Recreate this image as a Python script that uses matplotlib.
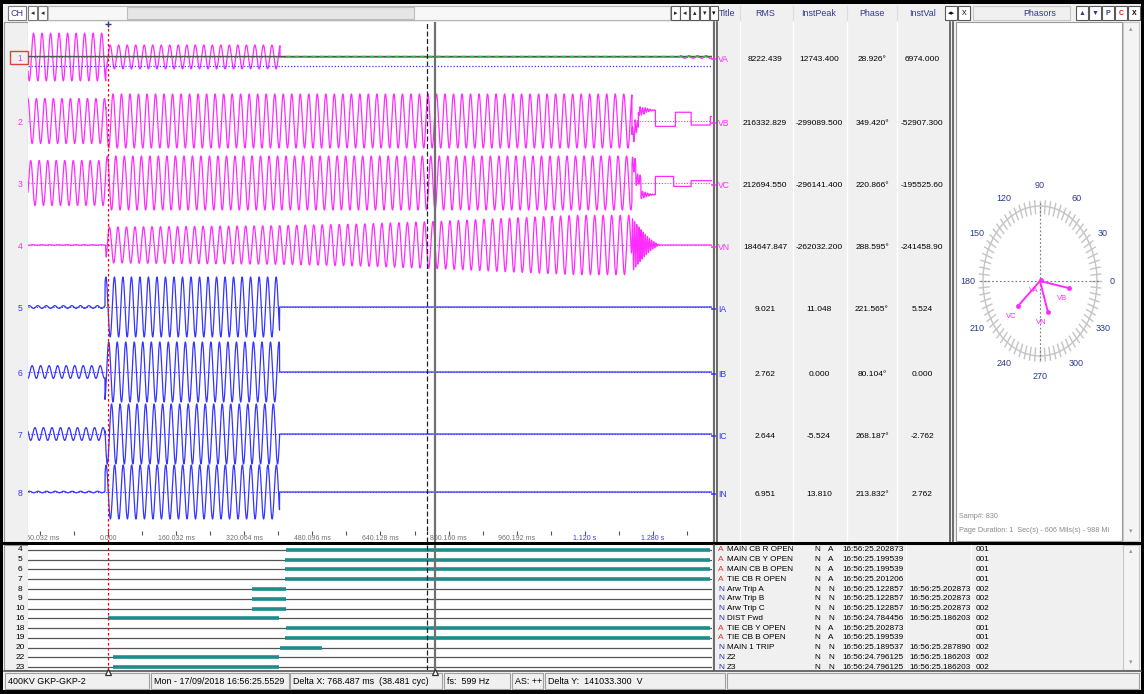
import numpy as np
import matplotlib
matplotlib.use("Agg")
import matplotlib.pyplot as plt
from matplotlib.patches import Rectangle
from matplotlib.transforms import blended_transform_factory

plt.rcParams['font.family'] = ['Liberation Sans', 'DejaVu Sans']
plt.rcParams['font.size'] = 6

W, H = 1144, 694

# record header
STATION = "400KV GKP-GKP-2"
CURSOR_STAMP = "Mon - 17/09/2018 16:56:25.5529"
TRIGGER = "16:56:24.784456"
FS = 599
F_SYS = 50.0
PAGE_START = -0.188
PAGE_LEN = 1.606988
PAGE_END = PAGE_START + PAGE_LEN
CURSOR_A = 0.0
CURSOR_B = 0.768487
MARK_T = 0.750
DELTA_Y = "141033.300"
SAMPLE_NO = 830

# analog channel readings at cursor B
chan_names = ["VA", "VB", "VC", "VN", "IA", "IB", "IC", "IN"]
rms_vals = ["8222.439", "216332.829", "212694.550", "184647.847", "9.021", "2.762", "2.644", "6.951"]
peak_vals = ["12743.400", "-299089.500", "-296141.400", "-262032.200", "11.048", "0.000", "-5.524", "13.810"]
phase_deg = [28.926, 349.420, 220.866, 288.595, 221.565, 80.104, 268.187, 213.832]
inst_vals = ["6974.000", "-52907.300", "-195525.60", "-241458.90", "5.524", "0.000", "-2.762", "2.762"]

# 50 Hz envelopes: segment start times (s) and peak values (kV / A)
va_seg_t = [-0.188, -0.005, 0.404, 1.345]
va_seg_pk = [265.0, 133.0, 0.0, 15.0]
vb_seg_t = [-0.188, -0.005, 1.231]
vb_seg_pk = [250.0, 300.0, 0.0]
vc_seg_t = [-0.188, -0.005, 1.231]
vc_seg_pk = [250.0, 300.0, 0.0]
vn_env_t = [-0.188, -0.006, -0.004, 0.40, 0.60, 0.77, 0.95, 1.10, 1.229, 1.231]
vn_env_pk = [3.0, 3.0, 200.0, 215.0, 235.0, 262.0, 300.0, 330.0, 330.0, 0.0]
ia_seg_t = [-0.188, -0.007, 0.403]
ia_seg_pk = [70.0, 1500.0, 0.0]
ib_seg_t = [-0.188, -0.007, 0.403]
ib_seg_pk = [320.0, 1500.0, 0.0]
ic_seg_t = [-0.188, -0.007, 0.403]
ic_seg_pk = [320.0, 1500.0, 0.0]
in_seg_t = [-0.188, -0.007, 0.403]
in_seg_pk = [40.0, 1350.0, 0.0]
wave_phase = [0.0, -120.0, 120.0, 30.0, 180.0, 60.0, -60.0, 170.0]

# line-side transients after the remote end opens (kV)
vb_dc_t = [1.231, 1.238, 1.246, 1.262, 1.286, 1.333, 1.370, 1.415]
vb_dc_kv = [-150.0, -60.0, 110.0, 120.0, -60.0, 97.0, -45.0, 50.0]
vc_dc_t = [1.231, 1.240, 1.252, 1.286, 1.329, 1.370]
vc_dc_kv = [200.0, 40.0, -130.0, 73.0, -38.0, 26.0]
ring_t0 = 1.231
ring_len = [0.057, 0.057, 0.068]
ring_hz = [170.0, 170.0, 200.0]
ring_pk = [90.0, 90.0, 300.0]

# digital channels / event list
evt_chan = ["4", "5", "6", "7", "8", "9", "10", "16", "18", "19", "20", "22", "23"]
evt_flag = ["A", "A", "A", "A", "N", "N", "N", "N", "A", "A", "N", "N", "N"]
evt_name = ["MAIN CB R OPEN", "MAIN CB Y OPEN", "MAIN CB B OPEN", "TIE CB R OPEN",
            "Arw Trip A", "Arw Trip B", "Arw Trip C", "DIST Fwd",
            "TIE CB Y OPEN", "TIE CB B OPEN", "MAIN 1 TRIP", "Z2", "Z3"]
evt_on = ["16:56:25.202873", "16:56:25.199539", "16:56:25.199539", "16:56:25.201206",
          "16:56:25.122857", "16:56:25.122857", "16:56:25.122857", "16:56:24.784456",
          "16:56:25.202873", "16:56:25.199539", "16:56:25.189537", "16:56:24.796125",
          "16:56:24.796125"]
evt_off = ["", "", "", "",
           "16:56:25.202873", "16:56:25.202873", "16:56:25.202873", "16:56:25.186203",
           "", "", "16:56:25.287890", "16:56:25.186203", "16:56:25.186203"]
evt_code = ["001", "001", "001", "001", "002", "002", "002", "002",
            "001", "001", "002", "002", "002"]

MAG = "#ff2cff"
BLU = "#3535ff"
TEAL = "#1f8c8c"
NAVY = "#2e3a8c"
PANEL = "#f0f0f0"


def px_box(x, y, w, h):
    return [x / W, 1 - (y + h) / H, w / W, h / H]


def clock_s(s):
    h, m, sec = s.split(":")
    return int(h) * 3600 + int(m) * 60 + float(sec)


def steps(t, seg_t, seg_v):
    idx = np.searchsorted(seg_t, t, side="right") - 1
    out = np.asarray(seg_v, dtype=float)[np.clip(idx, 0, len(seg_v) - 1)]
    out[t < seg_t[0]] = 0.0
    return out


fig = plt.figure(figsize=(W / 100, H / 100), dpi=100)
bg = fig.add_axes([0, 0, 1, 1])
bg.set_xlim(0, W)
bg.set_ylim(H, 0)
bg.axis("off")


def rect(x, y, w, h, fc, ec="none", lw=1.0, z=1):
    bg.add_patch(Rectangle((x, y), w, h, facecolor=fc, edgecolor=ec, lw=lw, zorder=z))


# window frame
rect(0, 0, W, H, "black")
rect(3, 4, 1138, 686, PANEL)

# toolbar
rect(8, 6, 18, 14, "white", "#7a7a7a", 0.8)
bg.text(17, 13.5, "CH", color=NAVY, ha="center", va="center", fontsize=6.5)
for bx, g in [(28, "\u25c2"), (38, "\u25c2")]:
    rect(bx, 6, 9, 14, "white", "#7a7a7a", 0.8)
    bg.text(bx + 4.5, 13.5, g, ha="center", va="center", fontsize=5, color="#222222")
rect(48, 6, 622, 14, "#f7f7f7", "#b5b5b5", 0.8)
rect(127, 7, 287, 12, "#e6e6e6", "#bdbdbd", 0.8)
for bx, g in [(671, "\u25b8"), (680, "\u25c2"), (690, "\u25b4"), (700, "\u25be")]:
    rect(bx, 6, 9, 14, "white", "#5a5a5a", 0.8)
    bg.text(bx + 4.5, 13.5, g, ha="center", va="center", fontsize=5, color="#222222")
rect(710, 6, 8, 14, "white", "#5a5a5a", 0.8)
bg.text(714, 13.5, "\u25be", ha="center", va="center", fontsize=5)
for hx, lab in [(727, "Title"), (765, "RMS"), (819, "InstPeak"), (872, "Phase"), (922, "InstVal")]:
    bg.text(hx, 13, lab, color=NAVY, ha="center", va="center", fontsize=6.4)
for sx in [740, 793, 847, 897]:
    bg.plot([sx, sx], [6, 20], color="#dcdcdc", lw=0.8)
for bx, g in [(945, "\u25c2\u25b8"), (958, "X")]:
    rect(bx, 6, 12, 14, "white", "#5a5a5a", 0.8)
    bg.text(bx + 6, 13.5, g, ha="center", va="center", fontsize=5, color="black")
rect(973, 6, 97, 14, PANEL, "#c8c8c8", 0.8)
bg.text(1040, 13, "Phasors", color=NAVY, ha="center", va="center", fontsize=6.4)
for bx, g, c in [(1076, "\u25b2", NAVY), (1089, "\u25bc", NAVY), (1102, "P", NAVY),
                 (1115, "C", "#d02020"), (1128, "X", "black")]:
    rect(bx, 6, 12, 14, "white", "#5a5a5a", 0.8)
    bg.text(bx + 6, 13.5, g, ha="center", va="center", fontsize=5, color=c, weight="bold")

# main panels
rect(4, 22, 24, 520, PANEL, "#9a9a9a", 0.8)
rect(28, 22, 684, 509, "white")
rect(28, 531, 684, 11, "white")
bg.plot([4, 712], [542.5, 542.5], color="black", lw=2.2, zorder=3)
rect(4, 545, 24, 125, PANEL, "#9a9a9a", 0.8)
rect(28, 545, 684, 125, "white")
rect(712, 22, 241, 520, PANEL)
bg.plot([713.5, 713.5], [22, 542], color="#555555", lw=1.2, zorder=3)
bg.plot([716.5, 716.5], [22, 542], color="#555555", lw=1.2, zorder=3)
for sx in [740, 793, 847, 897]:
    bg.plot([sx, sx], [22, 541], color="white", lw=1.0)
bg.plot([950, 950], [22, 542], color="#555555", lw=1.2, zorder=3)
bg.plot([953, 953], [22, 542], color="#555555", lw=1.2, zorder=3)
rect(956, 22, 166, 519, "white", "#9a9a9a", 0.8)
rect(1123, 22, 16, 519, "#f4f4f4", "#c8c8c8", 0.8)
bg.text(1131, 30, "\u25b4", ha="center", va="center", fontsize=5, color="#999999")
bg.text(1131, 532, "\u25be", ha="center", va="center", fontsize=5, color="#999999")
bg.plot([712, 1141], [542.5, 542.5], color="black", lw=2.2, zorder=3)
rect(712, 545, 410, 125, PANEL)
bg.plot([714, 714], [545, 670], color="#555555", lw=1.2, zorder=3)
rect(1123, 545, 16, 125, "#f4f4f4", "#c8c8c8", 0.8)
bg.text(1131, 552, "\u25b4", ha="center", va="center", fontsize=5, color="#999999")
bg.text(1131, 663, "\u25be", ha="center", va="center", fontsize=5, color="#999999")
bg.plot([4, 1141], [670.5, 670.5], color="#555555", lw=1.2, zorder=3)

# status bar
status = [(5, 144, STATION), (151, 138, CURSOR_STAMP),
          (290, 152, "Delta X: 768.487 ms  (38.481 cyc)"),
          (444, 66, "fs:  %d Hz" % FS), (512, 31, "AS: ++"),
          (545, 180, "Delta Y:  %s  V" % DELTA_Y), (727, 412, "")]
for sx, sw, txt in status:
    rect(sx, 673, sw, 16, PANEL, "#a0a0a0", 0.8)
    bg.text(sx + 3, 681, txt, ha="left", va="center", fontsize=6.4, color="black")

# ---- analog waveforms ----
lane_y = [57, 121, 183, 245, 307, 372, 434, 492]
px_per_unit = [0.09, 0.09, 0.09, 0.09, 0.02, 0.02, 0.02, 0.02]
colors = [MAG] * 4 + [BLU] * 4

wave = fig.add_axes(px_box(28, 22, 684, 509))
wave.set_xlim(PAGE_START, PAGE_END)
wave.set_ylim(531, 22)
wave.axis("off")

t = np.arange(PAGE_START, PAGE_END, 1.0 / 6000)
w50 = 2 * np.pi * F_SYS * t
ph = np.radians(wave_phase)
values = [
    steps(t, va_seg_t, va_seg_pk) * np.sin(w50 + ph[0]),
    steps(t, vb_seg_t, vb_seg_pk) * np.sin(w50 + ph[1]),
    steps(t, vc_seg_t, vc_seg_pk) * np.sin(w50 + ph[2]),
    np.interp(t, vn_env_t, vn_env_pk) * np.sin(w50 + ph[3]),
    steps(t, ia_seg_t, ia_seg_pk) * np.sin(w50 + ph[4]),
    steps(t, ib_seg_t, ib_seg_pk) * np.sin(w50 + ph[5]),
    steps(t, ic_seg_t, ic_seg_pk) * np.sin(w50 + ph[6]),
    steps(t, in_seg_t, in_seg_pk) * np.sin(w50 + ph[7]),
]
# decaying ringing once the line goes dead
for k, ch in enumerate([1, 2, 3]):
    fade = np.clip(1 - (t - ring_t0) / ring_len[k], 0, 1) * (t >= ring_t0)
    values[ch] = values[ch] + ring_pk[k] * fade ** 1.5 * np.sin(2 * np.pi * ring_hz[k] * (t - ring_t0))
values[1] = values[1] + steps(t, vb_dc_t, vb_dc_kv)
values[2] = values[2] + steps(t, vc_dc_t, vc_dc_kv)

for i in range(8):
    wave.axhline(lane_y[i], color=colors[i], lw=0.8, ls=(0, (1, 1.5)), zorder=1)
    wave.plot(t, lane_y[i] - values[i] * px_per_unit[i], color=colors[i], lw=0.9, zorder=2)

# selected channel reference lines
wave.axhline(lane_y[0] - 1, color="#555555", lw=1.0, zorder=3)
wave.axhline(lane_y[0] + 9, color=BLU, lw=0.9, ls=(0, (1, 1.5)), zorder=3)
wave.plot([clock_s(evt_on[0]) - clock_s(TRIGGER), PAGE_END], [lane_y[0] - 0.5] * 2,
          color="#3cb43c", lw=1.0, ls=(0, (3, 3)), zorder=4)

wave.axvline(CURSOR_A, color="red", lw=0.9, ls=(0, (2, 2)), zorder=5)
wave.axvline(MARK_T, color="#222222", lw=0.9, ls=(0, (4, 2)), zorder=5)
wave.axvline(CURSOR_B, color="#707070", lw=1.6, zorder=5)
wave.plot([CURSOR_A], [24], marker="+", color=NAVY, ms=5, mew=1, zorder=6, clip_on=False)

for i in range(8):
    bg.text(20, lane_y[i] + 1, str(i + 1), color=colors[i], ha="center", va="center", fontsize=6.2, zorder=4)
bg.add_patch(Rectangle((10, 51), 18, 13, fill=False, edgecolor="#e04040", lw=1.0, zorder=4))

# ---- time axis ----
tax = fig.add_axes(px_box(28, 531, 684, 11))
tax.set_xlim(PAGE_START, PAGE_END)
tax.set_ylim(11, 0)
tax.axis("off")
step = 0.160032
minor = np.arange(-2, 19) * step / 2
tax.vlines(minor, 0, 3.5, color="#555555", lw=0.8)
for k in range(-1, 9):
    tk = k * step
    if k == 0:
        lab = "0.000"
    elif abs(tk) < 1.0:
        lab = "%.3f ms" % (tk * 1000)
    else:
        lab = "%.3f s" % tk
    col = BLU if abs(tk) >= 1.0 else "#707070"
    tax.text(tk, 7.5, lab, ha="center", va="center", fontsize=5, color=col, clip_on=True)
tax.axvline(CURSOR_A, color="red", lw=0.9, ls=(0, (2, 2)))
tax.axvline(MARK_T, color="#222222", lw=0.9, ls=(0, (4, 2)))
tax.axvline(CURSOR_B, color="#707070", lw=1.6)

# ---- digital channels ----
t0 = clock_s(TRIGGER)
nrow = len(evt_chan)
dig = fig.add_axes(px_box(28, 545, 684, 125))
dig.set_xlim(PAGE_START, PAGE_END)
dig.set_ylim(12.3, -0.51)
dig.axis("off")
for r in range(nrow):
    dig.axhline(r, color="#555555", lw=0.9, zorder=1)
    on = clock_s(evt_on[r]) - t0
    off = clock_s(evt_off[r]) - t0 if evt_off[r] else PAGE_END - 0.004
    dig.plot([on, off], [r, r], color=TEAL, lw=2.6, solid_capstyle="butt", zorder=2)
dig.axvline(CURSOR_A, color="red", lw=0.9, ls=(0, (2, 2)), zorder=5)
dig.axvline(MARK_T, color="#222222", lw=0.9, ls=(0, (4, 2)), zorder=5)
dig.axvline(CURSOR_B, color="#707070", lw=1.6, zorder=5)
dig.plot([CURSOR_A, CURSOR_B], [12.55, 12.55], ls="none", marker="^", ms=5,
         mfc="white", mec="#333333", mew=0.9, clip_on=False, zorder=6)
lab_tr = blended_transform_factory(bg.transData, dig.transData)
for r in range(nrow):
    dig.text(20, r, evt_chan[r], transform=lab_tr, ha="center", va="center", fontsize=6, color="black")

# event list
evt = fig.add_axes(px_box(712, 545, 410, 125))
evt.set_xlim(712, 1122)
evt.set_ylim(12.3, -0.51)
evt.axis("off")
for r in range(nrow):
    fc = "#e83030" if evt_flag[r] == "A" else "#2a2ab0"
    evt.text(718, r, evt_flag[r], color=fc, ha="left", va="center", fontsize=6)
    evt.text(727, r, evt_name[r], ha="left", va="center", fontsize=5.9)
    evt.text(814, r, "N", ha="left", va="center", fontsize=5.9)
    evt.text(828, r, evt_flag[r], ha="left", va="center", fontsize=5.9)
    evt.text(842, r, evt_on[r], ha="left", va="center", fontsize=5.9)
    evt.text(909, r, evt_off[r], ha="left", va="center", fontsize=5.9)
    evt.text(976, r, evt_code[r], ha="left", va="center", fontsize=5.9)
evt.plot([906, 906], [-0.5, 12.3], color="white", lw=0.8)
evt.plot([971, 971], [-0.5, 12.3], color="white", lw=0.8)

# ---- measurement table ----
for i in range(8):
    y = lane_y[i] + 2
    bg.plot([712, 715], [y, y], color=colors[i], lw=1.2, zorder=4)
    bg.text(718, y, chan_names[i], color=colors[i], ha="left", va="center", fontsize=6.2)
    bg.text(765, y, rms_vals[i], ha="center", va="center", fontsize=6)
    bg.text(819, y, peak_vals[i], ha="center", va="center", fontsize=6)
    bg.text(872, y, "%.3f\u00b0" % phase_deg[i], ha="center", va="center", fontsize=6)
    bg.text(922, y, inst_vals[i], ha="center", va="center", fontsize=6)

# ---- phasor diagram ----
pax = fig.add_axes(px_box(956, 22, 166, 519))
cx, cy, rx, ry = 1040, 281, 57, 75
pax.set_xlim((956 - cx) / rx, (1122 - cx) / rx)
pax.set_ylim((cy - 541) / ry, (cy - 22) / ry)
pax.axis("off")
ring = np.radians(np.linspace(0, 360, 361))
pax.plot(np.cos(ring), np.sin(ring), color="#c4c4c4", lw=1.0)
for a in np.radians(np.arange(0, 360, 5)):
    pax.plot([0.9 * np.cos(a), 1.07 * np.cos(a)], [0.9 * np.sin(a), 1.07 * np.sin(a)],
             color="#c4c4c4", lw=1.0)
pax.plot([-1.05, 1.05], [0, 0], color="#777777", lw=0.8, ls=(0, (1.5, 2)))
pax.plot([0, 0], [-1.05, 1.05], color="#777777", lw=0.8, ls=(0, (1.5, 2)))
for a in range(0, 360, 30):
    ar = np.radians(a)
    pax.text(1.27 * np.cos(ar), 1.27 * np.sin(ar), str(a), color=NAVY,
             ha="center", va="center", fontsize=6.5)
full_scale = 420000.0
for i in range(4):
    mag = float(rms_vals[i]) / full_scale
    ar = np.radians(phase_deg[i])
    ex, ey = mag * np.cos(ar), mag * np.sin(ar)
    pax.plot([0, ex], [0, ey], color=MAG, lw=1.4, zorder=4)
    pax.plot([ex], [ey], "o", color=MAG, ms=2.5, zorder=4)
    pax.annotate(chan_names[i], (ex, ey), xytext=(-5, -7.5), textcoords="offset points",
                 color=MAG, ha="center", va="center", fontsize=5.5, zorder=5)
pax.text(-1.42, (cy - 517) / ry, "Samp#: %d" % SAMPLE_NO, color="#8a8a8a",
         ha="left", va="center", fontsize=5.2)
pax.text(-1.42, (cy - 531) / ry, "Page Duration: 1  Sec(s) - 606 Mils(s) - 988 Mi",
         color="#8a8a8a", ha="left", va="center", fontsize=5.2, clip_on=True)

fig.savefig("out.png", dpi=100)
